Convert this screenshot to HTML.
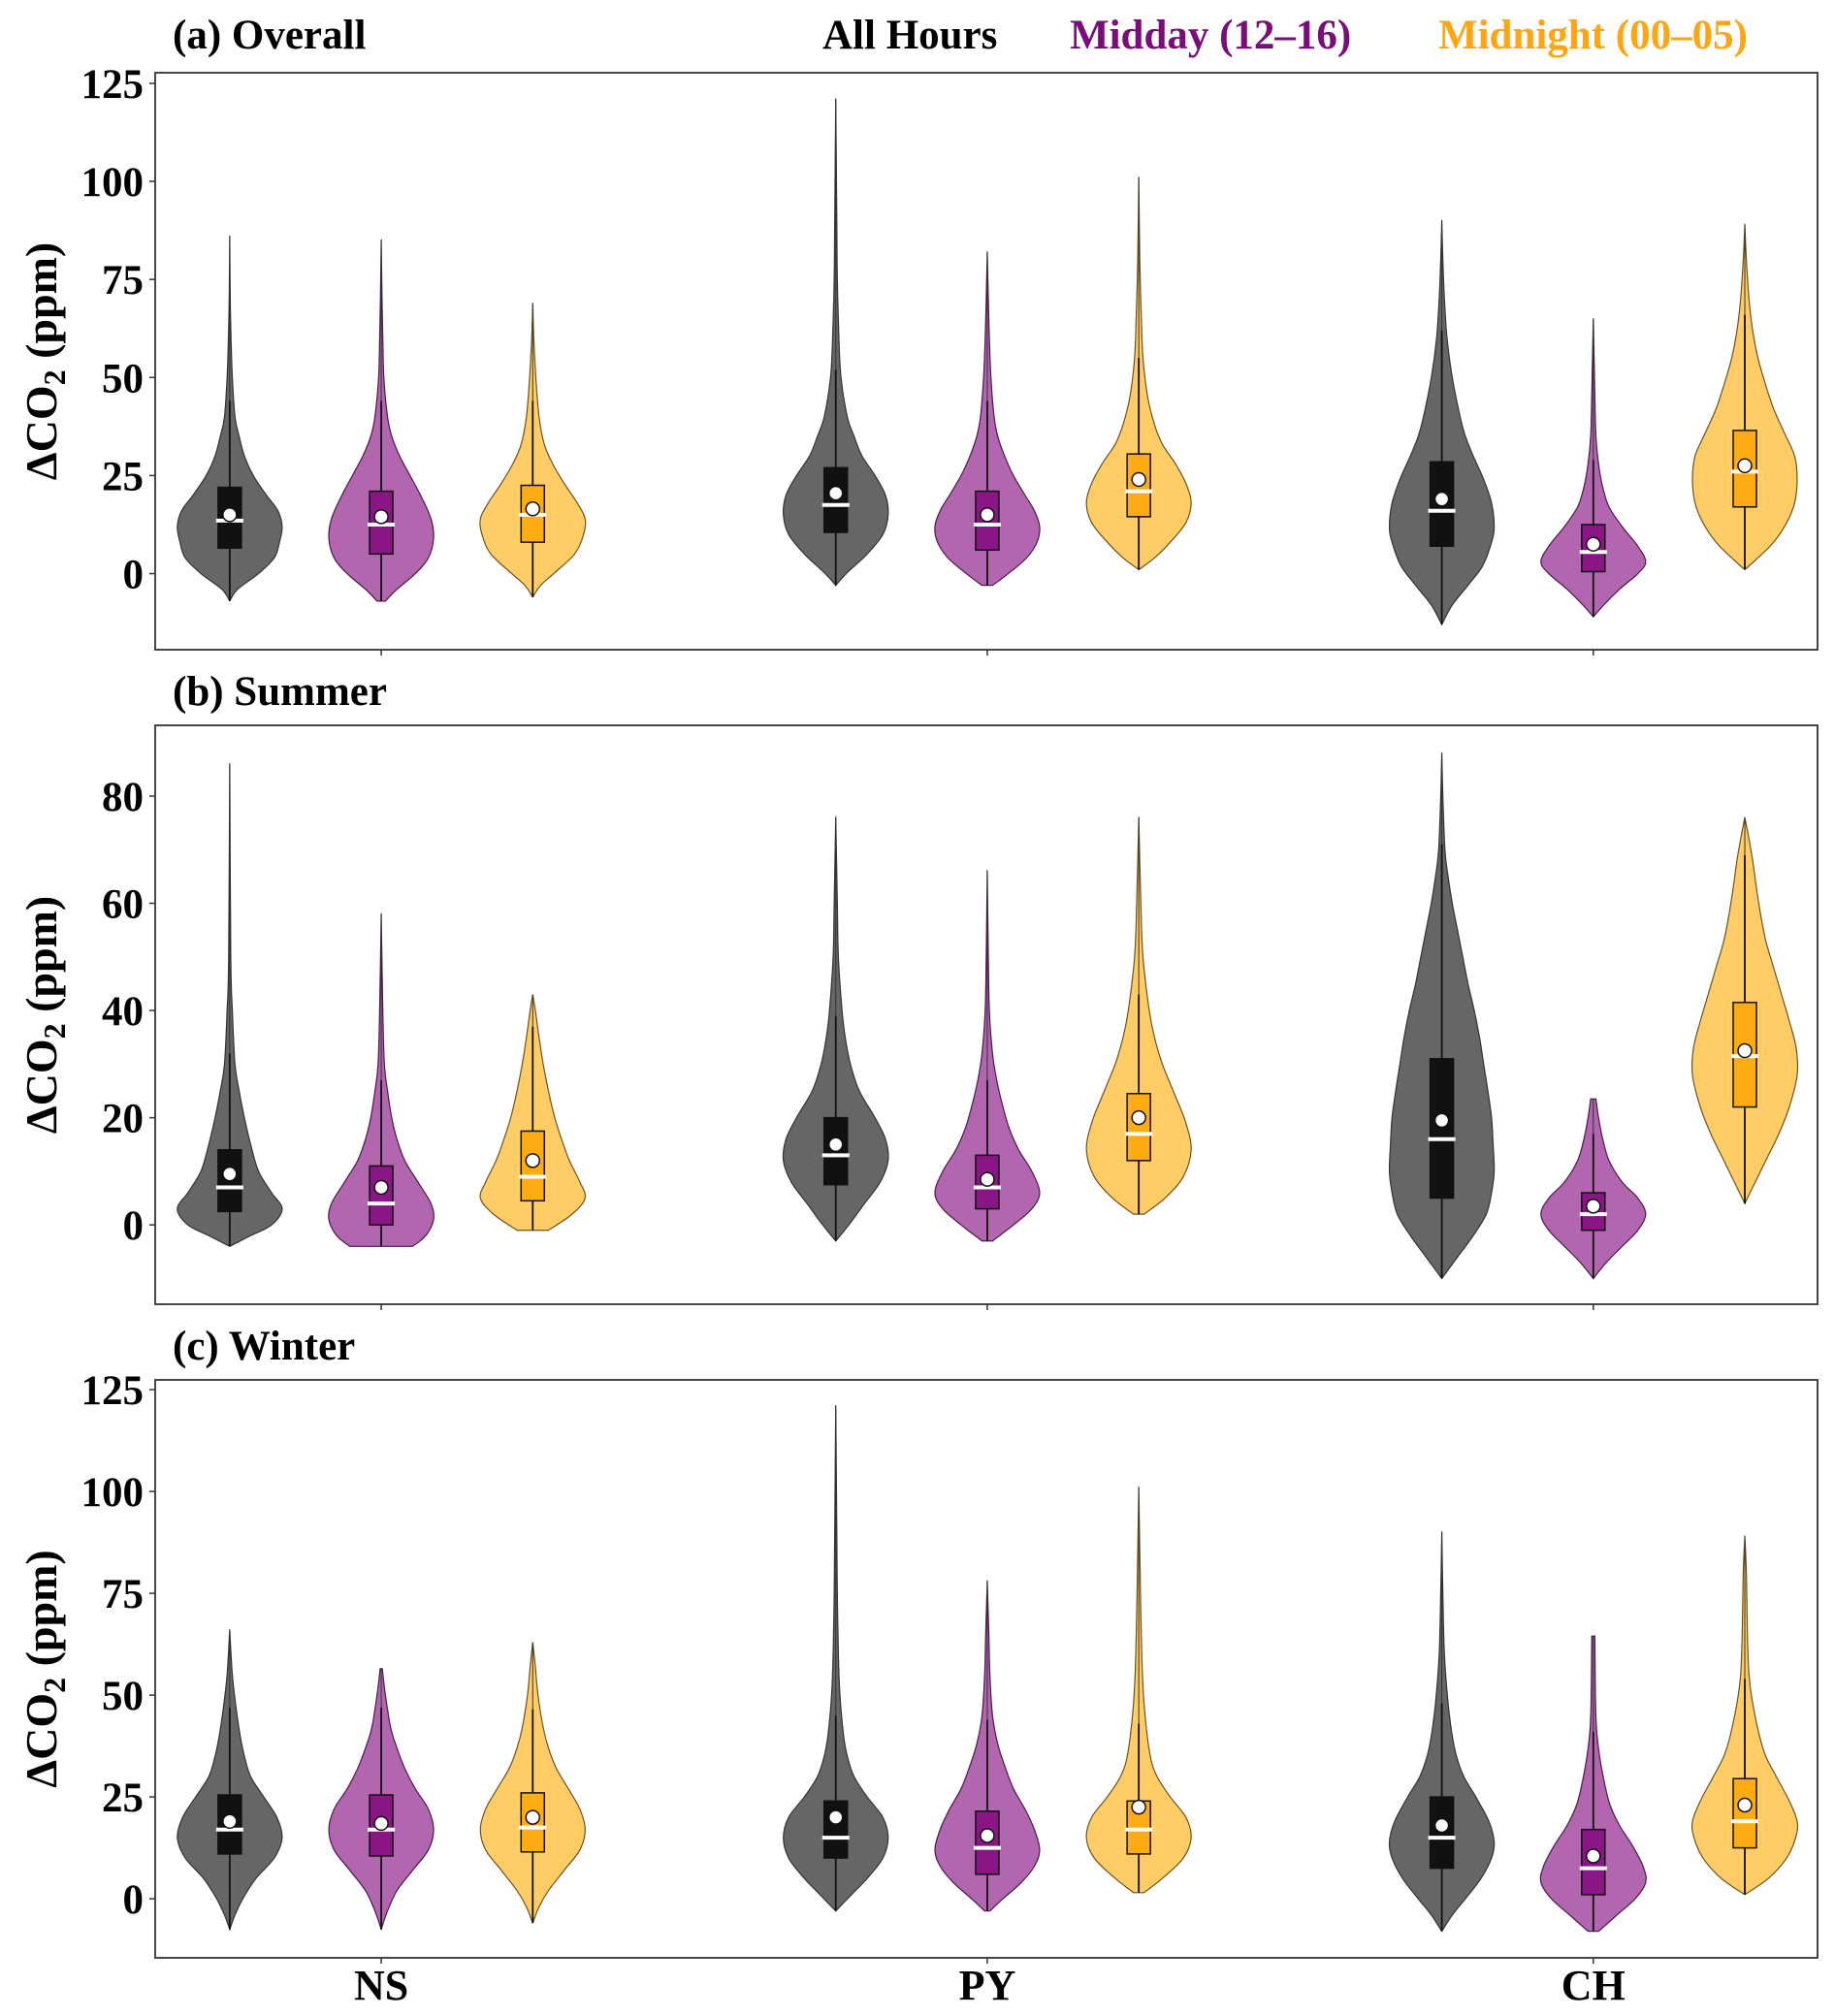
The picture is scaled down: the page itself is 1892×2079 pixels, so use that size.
<!DOCTYPE html>
<html><head><meta charset="utf-8"><style>
html,body{margin:0;padding:0;background:#fff;}
svg{display:block;font-family:"Liberation Serif",serif;font-weight:bold;}
</style></head><body>
<svg id="chart" width="1892" height="2079" viewBox="0 0 1892 2079" xmlns="http://www.w3.org/2000/svg">
<text x="178" y="50" font-size="43">(a) Overall</text>
<text x="848" y="50" font-size="43" fill="#000">All Hours</text>
<text x="1103" y="50" font-size="43" fill="#7b0d7a">Midday (12–16)</text>
<text x="1483" y="50" font-size="43" fill="#ffa511">Midnight (00–05)</text>
<text x="178" y="727" font-size="43">(b) Summer</text>
<text x="178" y="1402" font-size="43">(c) Winter</text>
<g id="plots"></g>
</svg>
<script>
const sites = ["NS","PY","CH"];
const groups = ["all","midday","midnight"];
const panelNames = ["overall","summer","winter"];
const yTicksA = [0,25,50,75,100,125];
const yTicksB = [0,20,40,60,80];
const yTicksC = [0,25,50,75,100,125];
const yLimA = [-19.4,127.7];
const yLimB = [-14.8,93.2];
const yLimC = [-14.5,127.4];
// each violin: [min, max, q1, q3, median, mean, whiskerTop]
const statsA = [
 [-7,86,6.5,22,13.5,15,44],[-7,85,5,21,12.5,14.5,44],[-6,69,8,22.5,15,16.5,44],
 [-3,121,10.5,27,17.5,20.5,52],[-3,82,6,21,12.5,15,44],[1,101,14.5,30.5,21,24,55],
 [-13,90,7,28.5,16,19,62],[-11,65,0.5,12.5,5.5,7.5,29],[1,89,17,36.5,26,27.5,66]];
const statsB = [
 [-4,86,2.5,14,7,9.5,32],[-4,58,0,11,4,7,27],[-1,43,4.5,17.5,9,12,37],
 [-3,76,7.5,20,13,15,39],[-3,66,3,13,7,8.5,27],[2,76,12,24.5,17,20,43],
 [-10,88,5,31,16,19.5,71],[-10,23.5,-1,6,2,3.5,17],[4,76,22,41.5,31.5,32.5,69]];
const statsC = [
 [-7.5,66,11,25.5,17,19,47],[-7.5,56.5,10.5,25.5,17,18.5,47],[-6,63,11.5,26,17.5,20,46.5],
 [-3,121,10,24,15,20,45],[-3,78,6,21.5,12.5,15.5,44],[1.5,101,11,24,17,22.5,43],
 [-8,90,7.5,25,15,18,48],[-8,64.5,1,17,7.5,10.5,41],[1,89,12.5,29.5,19,23,54]];
// density profiles: [value, relative half-width]
const shapeA = [
 [[-7,0],[-4,.15],[0,.55],[4,.85],[8,.95],[12,1],[16,.92],[20,.7],[25,.45],[30,.28],[35,.18],[40,.1],[50,.05],[60,.025],[70,.01],[86,0]],
 [[-7,.08],[-4,.3],[0,.65],[4,.9],[9,1],[14,.95],[20,.75],[25,.55],[30,.35],[35,.2],[40,.12],[50,.05],[60,.03],[70,.015],[85,0]],
 [[-6,0],[-3,.15],[0,.4],[5,.8],[10,.97],[14,1],[18,.85],[23,.6],[28,.38],[33,.22],[40,.12],[50,.06],[60,.02],[69,0]],
 [[-3,0],[0,.2],[5,.6],[10,.9],[15,1],[20,.95],[25,.75],[30,.5],[35,.35],[40,.22],[50,.1],[60,.06],[75,.03],[90,.02],[121,0]],
 [[-3,.1],[0,.4],[4,.75],[8,.95],[12,1],[16,.9],[20,.72],[25,.5],[30,.33],[35,.2],[40,.13],[50,.07],[60,.04],[70,.02],[82,0]],
 [[1,0],[4,.3],[8,.6],[13,.9],[18,1],[23,.9],[28,.7],[33,.45],[38,.3],[45,.17],[55,.08],[65,.05],[80,.02],[101,0]],
 [[-13,0],[-8,.2],[-3,.5],[2,.78],[8,.95],[12,1],[18,.95],[24,.8],[30,.6],[35,.45],[40,.35],[50,.2],[60,.1],[70,.05],[80,.02],[90,0]],
 [[-11,0],[-8,.2],[-4,.5],[0,.85],[3,1],[7,.85],[12,.55],[17,.3],[22,.18],[28,.1],[35,.05],[45,.03],[55,.015],[65,0]],
 [[1,0],[4,.25],[8,.55],[13,.8],[18,.95],[24,1],[30,.95],[36,.75],[42,.55],[48,.4],[55,.25],[62,.15],[70,.08],[80,.03],[89,0]]];
const shapeB = [
 [[-4,0],[-2,.4],[0,.8],[3,1],[6,.8],[10,.55],[15,.4],[20,.28],[25,.18],[30,.1],[40,.05],[50,.02],[86,0]],
 [[-4,.6],[-2,.85],[1,1],[4,.95],[8,.7],[12,.45],[16,.3],[20,.2],[25,.12],[30,.06],[40,.03],[58,0]],
 [[-1,.3],[2,.75],[5,1],[8,.9],[12,.7],[16,.55],[20,.42],[25,.3],[30,.2],[35,.12],[40,.05],[43,0]],
 [[-3,0],[0,.25],[4,.55],[8,.85],[12,1],[16,.95],[20,.75],[25,.45],[30,.28],[35,.18],[40,.12],[50,.05],[60,.03],[76,0]],
 [[-3,.1],[0,.5],[3,.85],[6,1],[10,.85],[14,.6],[18,.42],[22,.3],[27,.18],[32,.1],[40,.04],[50,.02],[66,0]],
 [[2,.1],[5,.5],[9,.85],[14,1],[19,.9],[24,.7],[30,.45],[35,.3],[40,.2],[50,.08],[60,.04],[76,0]],
 [[-10,0],[-6,.3],[-2,.6],[2,.85],[6,.95],[10,1],[15,.98],[20,.95],[25,.88],[30,.8],[35,.72],[40,.62],[45,.5],[50,.4],[55,.3],[60,.2],[65,.12],[70,.06],[80,.02],[88,0]],
 [[-10,0],[-7,.25],[-4,.55],[-1,.85],[2,1],[5,.85],[8,.55],[12,.3],[16,.18],[20,.1],[23.5,.05]],
 [[4,0],[8,.2],[12,.4],[17,.65],[22,.85],[28,1],[33,.98],[38,.85],[43,.7],[48,.55],[53,.4],[58,.3],[63,.22],[68,.15],[72,.08],[76,0]]];
const shapeC = [
 [[-7.5,0],[-4,.1],[0,.25],[5,.5],[10,.85],[15,1],[20,.9],[25,.65],[30,.4],[35,.28],[40,.2],[47,.12],[55,.05],[66,0]],
 [[-7.5,0],[-3,.12],[2,.3],[7,.6],[12,.9],[17,1],[22,.9],[27,.65],[32,.45],[37,.3],[42,.18],[50,.08],[56.5,.02]],
 [[-6,0],[-2,.12],[2,.3],[7,.6],[12,.9],[17,1],[22,.9],[27,.68],[32,.45],[37,.3],[42,.2],[50,.1],[57,.05],[63,0]],
 [[-3,0],[1,.3],[5,.6],[10,.9],[15,1],[20,.9],[25,.6],[30,.35],[35,.22],[40,.15],[50,.08],[60,.05],[75,.03],[90,.02],[121,0]],
 [[-3,.05],[0,.3],[4,.65],[8,.9],[12,1],[17,.9],[22,.72],[27,.5],[32,.35],[38,.2],[45,.1],[55,.05],[65,.03],[78,0]],
 [[1.5,.1],[5,.45],[10,.85],[15,1],[20,.9],[25,.6],[30,.35],[35,.22],[45,.12],[55,.07],[70,.04],[85,.02],[101,0]],
 [[-8,0],[-4,.2],[0,.45],[5,.75],[10,.95],[14,1],[19,.9],[25,.65],[30,.42],[35,.28],[40,.2],[48,.12],[60,.05],[75,.02],[90,0]],
 [[-8,.1],[-4,.45],[0,.8],[4,1],[8,.95],[13,.75],[18,.5],[23,.32],[28,.22],[35,.12],[42,.06],[50,.04],[64.5,.03]],
 [[1,0],[5,.45],[10,.8],[15,.97],[19,1],[24,.85],[30,.6],[35,.4],[40,.28],[48,.15],[55,.08],[65,.05],[80,.03],[89,0]]];

const panels = [
 {name:panelNames[0], top:75, bottom:670, lim:yLimA, ticks:yTicksA, stats:statsA, shape:shapeA, xlabels:false},
 {name:panelNames[1], top:748, bottom:1345, lim:yLimB, ticks:yTicksB, stats:statsB, shape:shapeB, xlabels:false},
 {name:panelNames[2], top:1423, bottom:2019, lim:yLimC, ticks:yTicksC, stats:statsC, shape:shapeC, xlabels:true}];
const LEFT=160, RIGHT=1874, XMIN=-0.373, XMAX=2.37, HALFW=54, BOXHW=12;
const violinFill=["#666666","#b266b0","#ffcc66"];
const boxFill=["#111111","#8a1585","#ffab14"];
const edge=["#333333","#4a1a48","#6b5320"];
const NS="http://www.w3.org/2000/svg";
const root=document.getElementById('plots');
function xS(v){return LEFT+(v-XMIN)/(XMAX-XMIN)*(RIGHT-LEFT);}
function mk(tag,attrs,parent){const e=document.createElementNS(NS,tag);for(const k in attrs)e.setAttribute(k,attrs[k]);(parent||root).appendChild(e);return e;}
// catmull-rom smooth path through points (open)
function smooth(pts){
  let d='';
  for(let i=0;i<pts.length-1;i++){
    const p0=pts[Math.max(i-1,0)],p1=pts[i],p2=pts[i+1],p3=pts[Math.min(i+2,pts.length-1)];
    const c1=[p1[0]+(p2[0]-p0[0])/6,p1[1]+(p2[1]-p0[1])/6];
    const c2=[p2[0]-(p3[0]-p1[0])/6,p2[1]-(p3[1]-p1[1])/6];
    d+=' C'+c1[0].toFixed(2)+','+c1[1].toFixed(2)+' '+c2[0].toFixed(2)+','+c2[1].toFixed(2)+' '+p2[0].toFixed(2)+','+p2[1].toFixed(2);
  }
  return d;
}

panels.forEach((p,pi)=>{
  const yS=v=>p.top+(p.lim[1]-v)/(p.lim[1]-p.lim[0])*(p.bottom-p.top);
  const g=mk('g',{});
  
  
  p.ticks.forEach(t=>{
    const y=yS(t);
    const tl=mk('line',{x1:LEFT-6,x2:LEFT,y1:y,y2:y,stroke:'#333','stroke-width':1.5},g);
    
    
    const tx=mk('text',{x:LEFT-12,y:y+15,'text-anchor':'end','font-size':43},g);
    tx.textContent=t;
    
    
  });
  sites.forEach((s,si)=>{
    const x=xS(si);
    const tk=mk('line',{x1:x,x2:x,y1:p.bottom,y2:p.bottom+6,stroke:'#333','stroke-width':1.5},g);
    
    
    if(p.xlabels){
      const lt=mk('text',{x:x,y:2062,'text-anchor':'middle','font-size':44},g);
      lt.textContent=s;
      
      
    }
    groups.forEach((gr,gi)=>{
      const idx=si*3+gi, st=p.stats[idx], sh=p.shape[idx];
      const cx=xS(si+(gi-1)*0.25);
      const vg=mk('g',{},g);
      
      
      const R=sh.map(d=>[cx+d[1]*HALFW,yS(d[0])]);
      const L=sh.slice().reverse().map(d=>[cx-d[1]*HALFW,yS(d[0])]);
      let d='M'+R[0][0]+','+R[0][1]+smooth(R)+' L'+L[0][0]+','+L[0][1]+smooth(L)+' Z';
      mk('path',{d:d,fill:violinFill[gi],stroke:edge[gi],'stroke-width':1.2},vg);
      mk('line',{x1:cx,x2:cx,y1:yS(st[0]),y2:yS(st[6]),stroke:'#111','stroke-width':1.8},vg);
      mk('line',{x1:cx,x2:cx,y1:yS(st[6]),y2:yS(st[1]),stroke:'#333','stroke-width':1},vg);
      mk('rect',{x:cx-BOXHW,y:yS(st[3]),width:2*BOXHW,height:yS(st[2])-yS(st[3]),fill:boxFill[gi],stroke:'#111','stroke-width':1.5},vg);
      mk('line',{x1:cx-14,x2:cx+14,y1:yS(st[4]),y2:yS(st[4]),stroke:'#fff','stroke-width':4},vg);
      mk('circle',{cx:cx,cy:yS(st[5]),r:7,fill:'#fff',stroke:'#111','stroke-width':1.5},vg);
    });
  });
  const fr=mk('rect',{x:LEFT,y:p.top,width:RIGHT-LEFT,height:p.bottom-p.top,fill:'none',stroke:'#333','stroke-width':1.8},g);
  
  
  const cy=(p.top+p.bottom)/2;
  const yl=mk('text',{x:0,y:0,'text-anchor':'middle','font-size':46,transform:'translate(58,'+cy+') rotate(-90)'},g);
  yl.innerHTML='ΔCO<tspan font-size="32" dy="9">2</tspan><tspan dy="-9"> (ppm)</tspan>';
  
  
});
</script>
</body></html>
